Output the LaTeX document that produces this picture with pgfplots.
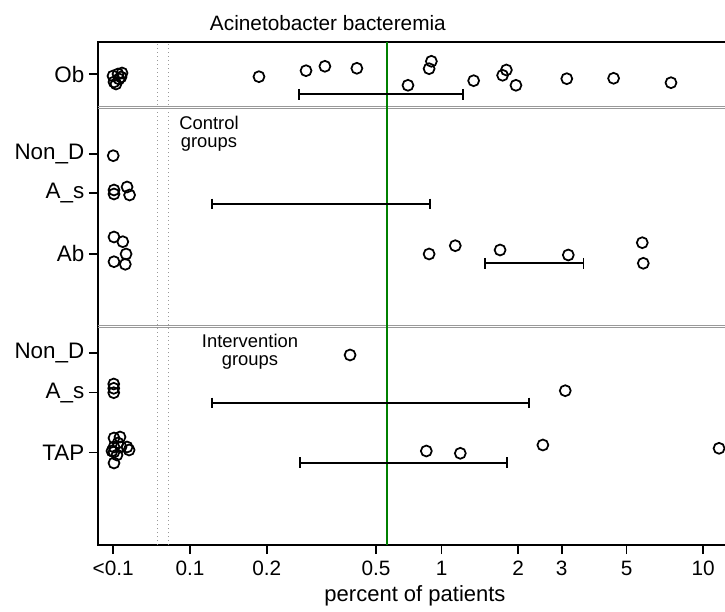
\documentclass[border=0pt]{standalone}
\usepackage{pgfplots}
\pgfplotsset{compat=1.18}
\usepackage{fontspec}
\setmainfont{Liberation Sans}
\definecolor{stgreen}{RGB}{0,128,0}
\begin{document}
\begin{tikzpicture}
\begin{axis}[
 scale only axis, width=475.5pt, height=377.25pt,
 xmin=-1.3655, xmax=1.1534, ymin=0, ymax=503,
 axis line style={line width=1.2pt},
 tick style={line width=1.2pt, black},
 major tick length=6.75pt,
 tick align=outside,
 xtick pos=left, ytick pos=left,
 xtick={-1.305,-1,-0.695,-0.261,0,0.304,0.477,0.735,1.039},
 xticklabels={<0.1,0.1,0.2,0.5,1,2,3,5,10},
 ytick={92.3,152.3,191.7,291,351.7,391,470.7},
 yticklabels={TAP,A\_s,Non\_D,Ab,A\_s,Non\_D,Ob},
 xticklabel style={font=\fontsize{15.6}{18}\selectfont, yshift=-1.5pt},
 yticklabel style={font=\fontsize{16.8}{19}\selectfont},
 xlabel={percent of patients},
 xlabel style={font=\fontsize{16.5}{19}\selectfont, at={(axis description cs:0.5,0)}, anchor=base, yshift=-42pt},
 clip=false,
]
% separators
\addplot[gray!80, line width=0.6pt, forget plot] coordinates {(-1.3655,439) (1.1534,439)};
\addplot[gray!80, line width=0.6pt, forget plot] coordinates {(-1.3655,436.3) (1.1534,436.3)};
\addplot[gray!80, line width=0.6pt, forget plot] coordinates {(-1.3655,220) (1.1534,220)};
\addplot[gray!80, line width=0.6pt, forget plot] coordinates {(-1.3655,217.5) (1.1534,217.5)};
% dotted break lines
\addplot[gray!80, dash pattern=on 0.9pt off 2.1pt, line width=0.9pt, forget plot] coordinates {(-1.130,0) (-1.130,503)};
\addplot[gray!80, dash pattern=on 0.9pt off 2.1pt, line width=0.9pt, forget plot] coordinates {(-1.086,0) (-1.086,503)};
% green reference line
\addplot[stgreen, line width=1.5pt, forget plot] coordinates {(-0.219,0) (-0.219,503)};
% error bars
\addplot[black, line width=1.35pt, mark=|, mark size=4pt, forget plot] coordinates {(-0.566,450.7) (0.086,450.7)};
\addplot[black, line width=1.35pt, mark=|, mark size=4pt, forget plot] coordinates {(-0.913,341) (-0.047,341)};
\addplot[black, line width=1.35pt, mark=|, mark size=4pt, forget plot] coordinates {(0.173,281.7) (0.563,281.7)};
\addplot[black, line width=1.35pt, mark=|, mark size=4pt, forget plot] coordinates {(-0.913,142) (0.347,142)};
\addplot[black, line width=1.35pt, mark=|, mark size=4pt, forget plot] coordinates {(-0.563,82.3) (0.259,82.3)};
% points
\addplot[only marks, mark=o, mark size=4.1pt, line width=1.3pt, black] table {
x y
-0.726 468.3
-0.539 474.3
-0.464 478.7
-0.337 476.7
-0.134 459.7
-0.041 483.7
-0.050 476.3
0.127 464.3
0.257 475
0.242 469.7
0.295 459.7
0.497 466.3
0.683 466.7
0.911 462.3
-1.306 469
-1.286 471
-1.270 472
-1.302 463
-1.282 466
-1.294 461
-1.274 468
};
\addplot[only marks, mark=o, mark size=4.1pt, line width=1.3pt, black] table {
x y
-1.305 389.3
-1.302 355
-1.302 351
-1.250 358
-1.240 350
-1.302 308
-1.267 303.3
-1.254 291
-1.302 283.3
-1.257 280.7
-0.050 291
0.054 299.3
0.232 295
0.503 290
0.797 302.3
0.801 281.7
};
\addplot[only marks, mark=o, mark size=4.1pt, line width=1.3pt, black] table {
x y
-0.364 190
-1.303 161
-1.303 156.7
-1.303 152.3
0.491 154.3
-0.061 94
0.074 91.7
0.402 100
1.102 96.7
-1.302 107
-1.278 108
-1.302 98
-1.274 98
-1.250 98
-1.242 95
-1.302 93
-1.290 90
-1.302 82
-1.310 94
-1.286 102
};
\node[align=center, font=\fontsize{13.8}{13.5}\selectfont] at (axis cs:-0.9245,411) {Control\\groups};
\node[align=center, font=\fontsize{13.8}{13.5}\selectfont] at (axis cs:-0.7616,193) {Intervention\\groups};
\node[anchor=base, font=\fontsize{15.6}{18}\selectfont] at (axis cs:-0.452,503) [yshift=8.25pt] {Acinetobacter bacteremia};
\coordinate (BL) at (rel axis cs:0,0);
\end{axis}
\pgfresetboundingbox
\path (BL) ++(-73.5pt,-49.5pt) rectangle ++(543.75pt,458.25pt);
\end{tikzpicture}
\end{document}
